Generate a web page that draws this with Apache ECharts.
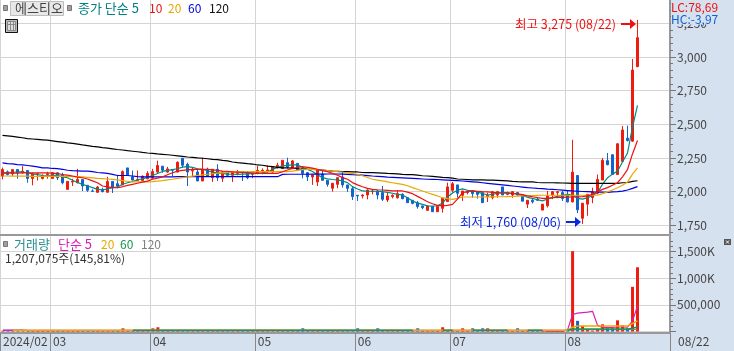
<!DOCTYPE html>
<html>
<head>
<meta charset="utf-8">
<script src="https://cdn.jsdelivr.net/npm/echarts@6/dist/echarts.min.js"></script>
<style>
html,body{margin:0;padding:0;background:#d6e1ef;}
#main{width:734px;height:351px;}
</style>
</head>
<body>
<div id="main"></div>
<script>
// open, close, low, high
var candles = [
[2115,2164,2091,2179],[2147,2127,2120,2157],[2132,2164,2115,2164],[2164,2140,2096,2164],[2140,2152,2135,2189],
[2157,2098,2066,2157],[2098,2132,2047,2140],[2127,2132,2083,2140],[2098,2122,2091,2127],[2127,2132,2096,2147],
[2098,2140,2096,2145],[2140,2103,2086,2145],[2127,2066,2054,2140],[2017,2076,2017,2076],[2071,2076,2042,2096],
[2066,2091,2061,2169],[2091,2042,2005,2091],[2047,2010,1998,2047],[2005,2002,1998,2017],[1995,2034,1990,2042],
[2017,2000,1995,2029],[1995,2076,1995,2110],[2076,2029,1990,2076],[2059,2042,2025,2125],[2049,2149,2049,2157],
[2176,2120,2120,2176],[2110,2086,2083,2157],[2083,2091,2078,2157],[2083,2115,2083,2120],[2096,2135,2091,2152],
[2100,2149,2096,2169],[2145,2194,2140,2230],[2189,2159,2140,2189],[2145,2169,2140,2184],[2164,2159,2115,2169],
[2145,2218,2145,2225],[2248,2196,2178,2248],[2203,2146,2042,2215],[2153,2158,2116,2178],[2146,2079,2079,2171],
[2079,2166,2079,2252],[2166,2116,2111,2178],[2104,2166,2072,2166],[2166,2104,2079,2203],[2099,2146,2072,2153],
[2146,2121,2116,2153],[2121,2146,2072,2153],[2136,2146,2121,2161],[2146,2141,2079,2146],[2134,2104,2092,2153],
[2129,2134,2099,2141],[2134,2158,2129,2191],[2153,2158,2129,2173],[2156,2161,2141,2196],[2146,2186,2141,2186],
[2178,2196,2171,2215],[2171,2233,2171,2233],[2215,2183,2171,2252],[2178,2228,2166,2235],[2210,2161,2161,2210],
[2171,2136,2099,2171],[2141,2109,2079,2146],[2109,2124,2050,2124],[2072,2161,2042,2166],[2129,2084,2084,2161],
[2084,2054,2037,2084],[2025,2062,2000,2062],[2054,2104,2025,2104],[2109,2050,2030,2153],[2050,2025,1998,2050],
[2022,1963,1938,2037],[1973,1968,1931,1973],[1968,1975,1950,1980],[1975,2012,1943,2017],[2000,2005,1980,2012],
[2005,1975,1943,2012],[1993,1943,1931,2042],[1938,1968,1923,1998],[1963,1973,1950,1980],[1955,1985,1948,2010],
[1980,1948,1943,1988],[1955,1918,1918,1955],[1936,1913,1906,1936],[1918,1889,1874,1931],[1894,1881,1869,1894],
[1861,1894,1859,1894],[1889,1851,1849,1889],[1851,1889,1849,1894],[1876,1950,1844,1950],[1926,2035,1926,2067],
[2010,2059,1993,2072],[2050,1988,1955,2050],[1973,2005,1931,2005],[1993,2005,1980,2005],[2005,1985,1955,2012],
[2000,1980,1948,2000],[1993,1918,1918,1993],[1963,1973,1923,1993],[1955,2000,1943,2005],[1975,2000,1955,2005],
[2035,1975,1975,2035],[1980,1993,1973,2000],[1975,2000,1955,2000],[1993,1975,1970,1993],[1978,1929,1929,1978],
[1907,1936,1878,1936],[1936,1924,1912,1949],[1944,1936,1931,1956],[1863,1907,1863,1907],[1895,1968,1882,2005],
[1976,2000,1944,2005],[1993,2000,1951,2005],[1993,1949,1931,2005],[1980,1924,1919,2005],[1924,2145,1919,2385],
[2120,1865,1841,2120],[1802,1914,1760,1914],[1907,1980,1821,1980],[1956,2000,1914,2029],[1988,2091,1980,2127],
[2086,2233,2086,2250],[2230,2200,2196,2287],[2274,2127,2127,2274],[2127,2355,2127,2360],[2225,2458,2225,2488],
[2397,2380,2372,2490],[2375,2903,2370,2985],[2928,3143,2925,3275]
];
var ma5 = [
2140,2142,2144,2146,2146,2140,2132,2126,2120,2118,
2120,2122,2110,2103,2085,2068,2054,2042,2030,2017,
2012,2020,2029,2035,2055,2066,2075,2088,2095,2105,
2120,2135,2150,2158,2164,2170,2182,2186,2180,2170,
2166,2155,2145,2140,2135,2130,2129,2128,2130,2132,
2134,2136,2140,2146,2165,2180,2191,2195,2198,2198,
2180,2165,2150,2125,2104,2095,2090,2087,2079,2067,
2037,2020,2005,2003,2003,2003,2000,1995,1988,1980,
1975,1955,1931,1915,1905,1894,1892,1895,1915,1960,
1990,2010,2020,2010,2005,1998,1985,1975,1980,1988,
1992,1993,1988,1982,1970,1958,1950,1940,1931,1945,
1956,1965,1972,1980,1975,1950,1944,1955,1970,1993,
2055,2103,2130,2152,2220,2287,2480,2640
];
var ma10 = [
2138,2138,2138,2138,2139,2140,2140,2140,2140,2140,
2138,2134,2127,2122,2116,2108,2103,2094,2080,2066,
2042,2036,2030,2029,2036,2046,2054,2062,2070,2078,
2092,2100,2110,2125,2140,2152,2158,2162,2166,2166,
2166,2165,2162,2158,2153,2150,2147,2145,2143,2141,
2139,2137,2136,2136,2136,2136,2148,2161,2172,2180,
2186,2180,2174,2166,2156,2148,2136,2122,2104,2092,
2067,2050,2036,2024,2017,2014,2012,2009,2006,2005,
2005,1996,1985,1965,1945,1925,1910,1898,1894,1898,
1906,1945,1993,2000,2005,2003,2000,1998,1995,1993,
1990,1988,1986,1984,1978,1968,1962,1955,1950,1950,
1956,1957,1958,1959,1960,1961,1963,1968,1980,1998,
2017,2030,2048,2066,2110,2164,2280,2380
];
var ma20 = [
2116,2116,2115,2115,2115,2115,2114,2114,2114,2114,
2114,2114,2113,2113,2112,2112,2110,2106,2102,2098,
2096,2094,2091,2087,2082,2077,2073,2072,2072,2073,
2075,2078,2082,2087,2092,2098,2104,2110,2115,2120,
2125,2129,2133,2137,2140,2143,2146,2147,2147,2147,
2148,2148,2148,2148,2148,2148,2148,2148,2152,2158,
2164,2166,2166,2164,2160,2156,2152,2148,2146,2138,
2134,2129,2118,2105,2092,2086,2080,2072,2066,2060,
2054,2044,2030,2018,2005,1992,1980,1968,1955,1948,
1943,1950,1960,1960,1960,1960,1960,1961,1961,1962,
1962,1963,1964,1966,1968,1970,1971,1972,1973,1973,
1973,1973,1973,1973,1973,1973,1973,1973,1973,1973,
1985,1998,2012,2029,2047,2071,2130,2176
];
var ma60 = [
2213,2208,2206,2200,2198,2194,2189,2184,2176,2176,
2172,2171,2166,2159,2156,2154,2152,2152,2148,2142,
2140,2136,2128,2120,2120,2120,2116,2112,2110,2110,
2110,2110,2110,2110,2110,2111,2111,2111,2111,2111,
2111,2111,2111,2111,2111,2111,2111,2111,2111,2111,
2111,2111,2111,2111,2111,2111,2128,2129,2129,2129,
2129,2129,2130,2130,2130,2131,2131,2131,2130,2128,
2126,2124,2122,2119,2116,2114,2111,2108,2106,2104,
2102,2100,2098,2096,2094,2092,2091,2090,2088,2086,
2084,2082,2079,2076,2073,2070,2066,2062,2058,2054,
2050,2046,2042,2038,2034,2030,2027,2024,2022,2019,
2017,2014,2011,2008,2005,2003,2001,2000,1998,1997,
1996,1995,1998,2000,2004,2012,2024,2037
];
var ma120 = [
2418,2414,2410,2405,2400,2394,2391,2388,2385,2382,
2377,2372,2367,2362,2358,2353,2347,2342,2336,2332,
2327,2323,2318,2313,2309,2304,2300,2296,2291,2287,
2284,2280,2277,2274,2270,2266,2262,2257,2255,2250,
2248,2244,2240,2238,2232,2228,2220,2215,2212,2208,
2205,2198,2196,2190,2186,2180,2176,2176,2174,2170,
2166,2166,2166,2164,2160,2156,2152,2150,2148,2148,
2147,2146,2142,2141,2141,2140,2138,2135,2134,2132,
2128,2126,2126,2122,2118,2116,2114,2110,2106,2104,
2100,2094,2092,2090,2088,2087,2087,2086,2085,2084,
2082,2080,2076,2074,2073,2073,2072,2068,2066,2066,
2066,2065,2064,2063,2062,2061,2061,2061,2061,2061,
2061,2061,2061,2062,2066,2068,2076,2081
];
var volume = [
18000,18000,18000,18000,18000,18000,18000,18000,18000,18000,
18000,18000,18000,18000,18000,18000,18000,18000,18000,18000,
18000,18000,18000,18000,60000,18000,18000,18000,18000,18000,
60000,80000,18000,18000,18000,18000,18000,18000,18000,18000,
18000,18000,18000,18000,18000,18000,18000,18000,18000,18000,
18000,18000,18000,18000,18000,18000,18000,18000,18000,18000,
60000,18000,18000,18000,18000,18000,18000,18000,18000,18000,
18000,60000,18000,18000,18000,60000,18000,18000,18000,18000,
18000,18000,18000,60000,18000,18000,18000,18000,80000,18000,
18000,18000,60000,18000,60000,18000,60000,60000,18000,18000,
18000,18000,18000,60000,18000,18000,18000,18000,18000,18000,
18000,18000,18000,18000,1510000,200000,105000,30000,18000,30000,
135000,60000,60000,210000,115000,60000,840000,1207075
];
var volMa5 = [
25000,25000,25000,25000,25000,16000,16000,16000,16000,16000,
16000,16000,16000,16000,16000,16000,16000,16000,16000,16000,
16000,16000,16000,16000,16000,16000,16000,16000,16000,16000,
16000,16000,16000,16000,16000,16000,16000,16000,16000,16000,
16000,16000,16000,16000,16000,16000,16000,16000,16000,16000,
16000,16000,16000,16000,16000,16000,16000,16000,16000,16000,
16000,16000,16000,16000,16000,16000,16000,16000,16000,16000,
16000,16000,16000,16000,16000,16000,16000,16000,16000,16000,
16000,16000,16000,16000,16000,16000,16000,16000,16000,16000,
16000,16000,16000,16000,16000,16000,16000,16000,16000,16000,
16000,16000,16000,16000,16000,16000,16000,16000,16000,8000,
8000,8000,8000,30000,320000,345000,355000,365000,380000,115000,
75000,75000,75000,85000,85000,80000,200000,480000
];
var volMa20 = [
null,null,24000,24000,24000,24000,24000,24000,24000,24000,
24000,24000,24000,24000,24000,24000,24000,24000,24000,24000,
24000,24000,24000,24000,24000,24000,24000,24000,24000,24000,
24000,24000,24000,24000,24000,24000,24000,24000,24000,24000,
24000,24000,24000,24000,24000,24000,24000,24000,24000,24000,
24000,24000,24000,24000,24000,24000,24000,24000,24000,24000,
24000,24000,24000,24000,24000,24000,24000,24000,24000,24000,
24000,24000,24000,24000,24000,24000,24000,24000,24000,24000,
24000,24000,24000,24000,24000,24000,24000,24000,24000,24000,
24000,24000,24000,24000,24000,24000,24000,24000,24000,24000,
24000,24000,24000,24000,24000,24000,24000,24000,24000,24000,
24000,24000,24000,24000,80000,105000,105000,105000,105000,105000,
105000,105000,105000,105000,105000,105000,150000,200000
];
var volMa60 = [
null,null,null,null,null,null,null,null,null,null,
null,null,null,null,null,null,null,null,null,null,
null,null,null,null,null,null,24000,24000,24000,24000,
24000,24000,24000,24000,24000,24000,24000,24000,24000,24000,
24000,24000,24000,24000,24000,24000,24000,24000,24000,24000,
24000,24000,24000,24000,24000,24000,24000,24000,24000,24000,
24000,24000,24000,24000,24000,24000,24000,24000,24000,24000,
24000,24000,24000,24000,24000,24000,24000,24000,24000,24000,
24000,24000,24000,null,null,null,null,null,24000,24000,
24000,null,null,null,24000,24000,24000,24000,24000,24000,
24000,24000,null,null,null,24000,24000,24000,24000,null,
null,null,null,24000,47000,47000,47000,47000,47000,47000,
47000,47000,47000,47000,47000,47000,60000,85000
];
var volMa120 = [
20000,20000,20000,20000,20000,20000,20000,20000,20000,20000,
20000,20000,20000,20000,20000,20000,20000,20000,20000,20000,
20000,20000,20000,20000,20000,20000,20000,20000,20000,20000,
20000,20000,20000,20000,20000,20000,20000,20000,20000,20000,
20000,20000,20000,20000,20000,20000,20000,20000,20000,20000,
20000,20000,20000,20000,20000,20000,20000,20000,20000,20000,
20000,20000,20000,20000,20000,20000,20000,20000,20000,20000,
20000,20000,20000,20000,20000,20000,20000,20000,20000,20000,
20000,20000,20000,20000,20000,20000,20000,20000,20000,20000,
20000,20000,20000,20000,20000,20000,20000,20000,20000,20000,
20000,20000,20000,20000,20000,20000,20000,20000,20000,20000,
20000,20000,20000,20000,30000,35000,35000,35000,35000,35000,
35000,35000,35000,35000,35000,35000,38000,40000
];
var monthStarts = [0,10,30,51,71,90,113];
var monthLabels = ['2024/02','03','04','05','06','07','08'];
var priceTicks = [1750,2000,2250,2500,2750,3000,3250];
var priceMinor = [1700,1800,1850,1900,1950,2050,2100,2150,2200,2300,2350,2400,2450,2550,2600,2650,2700,2800,2850,2900,2950,3050,3100,3150,3200,3300,3350,3400];
var volTicks = [0,500000,1000000,1500000];
var volLabels = [500000,1000000,1500000];
var volMinor = [100000,200000,300000,400000,600000,700000,800000,900000,1100000,1200000,1300000,1400000,1600000,1700000];

var RED = '#ee1c0e', BLUE = '#1462cc';
var FONT = '"Noto Sans CJK KR","Liberation Sans",sans-serif';
var GRIDC = '#d4d4d4', FRAME = '#999999';

var categories = [];
for (var i = 0; i < 134; i++) { categories.push(i); }

function isMonth(i) { return monthStarts.indexOf(i) >= 0; }

function fmtPrice(v) {
	return String(v).replace(/\B(?=(\d{3})+$)/g, ',');
}
function fmtVol(v) {
	return v >= 1000000 ? fmtPrice(v / 1000) + 'K' : fmtPrice(v);
}

function xAxis(grid, withLabel) {
	return {
		type: 'category', gridIndex: grid, data: categories, boundaryGap: true, position: 'bottom',
		axisLine: {onZero: false, lineStyle: {color: FRAME, width: 2}},
		axisTick: {show: withLabel, interval: isMonth, length: 18, lineStyle: {color: '#888888'}},
		splitLine: {show: true, interval: isMonth, lineStyle: {color: GRIDC}},
		axisLabel: {
			show: withLabel, interval: isMonth, align: 'left', margin: 2, color: '#444444',
			fontFamily: FONT, fontSize: 12,
			formatter: function(v, idx) { return monthLabels[monthStarts.indexOf(idx)]; }
		}
	};
}

function yMain(grid, min, max, ticks, labels, fmt) {
	return {
		type: 'value', gridIndex: grid, position: 'right', min: min, max: max, scale: true,
		axisLine: {show: true, onZero: false, lineStyle: {color: FRAME, width: 2}},
		axisTick: {show: true, length: 6, customValues: ticks, lineStyle: {color: '#777777'}},
		splitLine: {show: true, lineStyle: {color: GRIDC}},
		axisLabel: {margin: 7, color: '#444444', fontFamily: FONT, fontSize: 12, customValues: labels, formatter: fmt}
	};
}

function yMinor(grid, min, max, ticks) {
	return {
		type: 'value', gridIndex: grid, position: 'right', min: min, max: max, scale: true,
		axisLine: {show: false},
		axisTick: {show: true, length: 3, customValues: ticks, lineStyle: {color: '#777777'}},
		splitLine: {show: false},
		axisLabel: {show: false}
	};
}

function line(name, data, color, xi, yi, width) {
	return {
		name: name, type: 'line', data: data, xAxisIndex: xi, yAxisIndex: yi, showSymbol: false, silent: true,
		lineStyle: {color: color, width: width}, itemStyle: {color: color}, connectNulls: false
	};
}

function text(x, y, str, color, size) {
	return {
		type: 'text', x: x, y: y, z: 30,
		style: {text: str, fill: color, font: (size || 12) + 'px ' + FONT, verticalAlign: 'middle', align: 'left'}
	};
}
function box(x, y, w, h, fill, stroke) {
	return {type: 'rect', z: 29, shape: {x: x, y: y, width: w, height: h}, style: {fill: fill, stroke: stroke || null, lineWidth: 1}};
}

var graphics = [
	// 상단 범례
	box(3.5, 5.5, 4, 5, '#a0a0a0', '#777777'),
	box(10.5, 1.5, 53, 14, '#e8e8e8', '#bdbdbd'),
	text(15, 8, '에스티오', '#444444', 13),
	box(67.5, 5.5, 4, 5, '#a0a0a0', '#777777'),
	text(78, 8, '종가 단순 5', '#008080', 13),
	text(149, 8, '10', '#ee1111'),
	text(168, 8, '20', '#e8a800'),
	text(188, 8, '60', '#0000e0'),
	text(209, 8, '120', '#111111'),
	// 표 아이콘
	box(5.5, 19.5, 12, 13, '#bbbbbb', '#111111'),
	box(7.5, 21.5, 8, 9, '#dddddd', '#888888'),
	{type: 'line', z: 30, shape: {x1: 10.5, y1: 21, x2: 10.5, y2: 31}, style: {stroke: '#888888'}},
	{type: 'line', z: 30, shape: {x1: 13.5, y1: 21, x2: 13.5, y2: 31}, style: {stroke: '#888888'}},
	{type: 'line', z: 30, shape: {x1: 7, y1: 24.5, x2: 16, y2: 24.5}, style: {stroke: '#888888'}},
	// 거래량 범례
	box(3.5, 241.5, 4, 5, '#a0a0a0', '#777777'),
	text(14, 244, '거래량', '#2a9090', 13),
	text(58, 244, '단순 5', '#d81fb5', 13),
	text(101, 244, '20', '#e8a800'),
	text(120, 244, '60', '#189850'),
	text(141, 244, '120', '#808080'),
	text(5, 258, '1,207,075주(145,81%)', '#333333'),
	// 오른쪽 위 LC/HC
	box(671, 0, 63, 24.5, '#d6e1ef'),
	text(671, 7, 'LC:78,69', '#ee1111', 12),
	text(671, 19, 'HC:-3,97', '#1060d0', 12),
	// 아래 축 마지막 날짜
	text(678, 341.5, '08/22', '#444444'),
	// 닫기 버튼
	box(724, 239, 7, 6, '#555555'),
	{type: 'line', z: 30, shape: {x1: 726, y1: 240.5, x2: 729, y2: 243.5}, style: {stroke: '#ffffff'}},
	{type: 'line', z: 30, shape: {x1: 729, y1: 240.5, x2: 726, y2: 243.5}, style: {stroke: '#ffffff'}}
];

var ARROW = 'path://M0 4H9V0L15 5L9 10V6H0Z';

var option = {
	animation: false,
	backgroundColor: '#d6e1ef',
	textStyle: {fontFamily: FONT},
	grid: [
		{left: 0, top: 0, width: 670, height: 235, show: true, backgroundColor: '#ffffff', borderWidth: 0},
		{left: 0, top: 236, width: 670, height: 97, show: true, backgroundColor: '#ffffff', borderWidth: 0}
	],
	xAxis: [xAxis(0, false), xAxis(1, true)],
	yAxis: [
		yMain(0, 1678, 3423, priceTicks, priceTicks, fmtPrice),
		yMain(1, -28000, 1795000, volTicks, volLabels, fmtVol),
		yMinor(0, 1678, 3423, priceMinor),
		yMinor(1, -28000, 1795000, volMinor)
	],
	graphic: graphics,
	series: [
		{
			name: '에스티오', type: 'candlestick', data: candles, xAxisIndex: 0, yAxisIndex: 0, barWidth: 3,
			itemStyle: {color: RED, color0: BLUE, borderColor: RED, borderColor0: BLUE, borderWidth: 1},
			markPoint: {
				silent: true, animation: false,
				data: [
					{
						coord: [127, 3275], symbol: ARROW, symbolSize: [15, 10], symbolKeepAspect: false, symbolOffset: [-9, 4],
						itemStyle: {color: '#ee1111'},
						label: {show: true, position: 'left', distance: 5, formatter: '최고 3,275 (08/22)', color: '#ee1111', fontFamily: FONT, fontSize: 12.5}
					},
					{
						coord: [116, 1760], symbol: ARROW, symbolSize: [15, 10], symbolKeepAspect: false, symbolOffset: [-9, -2],
						itemStyle: {color: '#0a28e0'},
						label: {show: true, position: 'left', distance: 5, formatter: '최저 1,760 (08/06)', color: '#0a28e0', fontFamily: FONT, fontSize: 12.5}
					}
				]
			}
		},
		line('5', ma5, '#008a80', 0, 0, 1.2),
		line('120', ma120, '#000000', 0, 0, 1.2),
		line('60', ma60, '#0000e6', 0, 0, 1.2),
		line('20', ma20, '#eaa800', 0, 0, 1.2),
		line('10', ma10, '#ee1111', 0, 0, 1.2),
		{
			name: '거래량', type: 'bar', xAxisIndex: 1, yAxisIndex: 1, barWidth: 3,
			data: volume.map(function(v, idx) {
				var c = candles[idx];
				return {value: v, itemStyle: {color: c[1] >= c[0] ? RED : BLUE}};
			})
		},
		line('vol120', volMa120, '#808080', 1, 1, 1.2),
		line('vol5', volMa5, '#d81fb5', 1, 1, 1.2),
		line('vol20', volMa20, '#eea800', 1, 1, 1.5),
		line('vol60', volMa60, '#189850', 1, 1, 1.5)
	]
};

var chart = echarts.init(document.getElementById('main'), null, {renderer: 'canvas'});
chart.setOption(option);
</script>
</body>
</html>
